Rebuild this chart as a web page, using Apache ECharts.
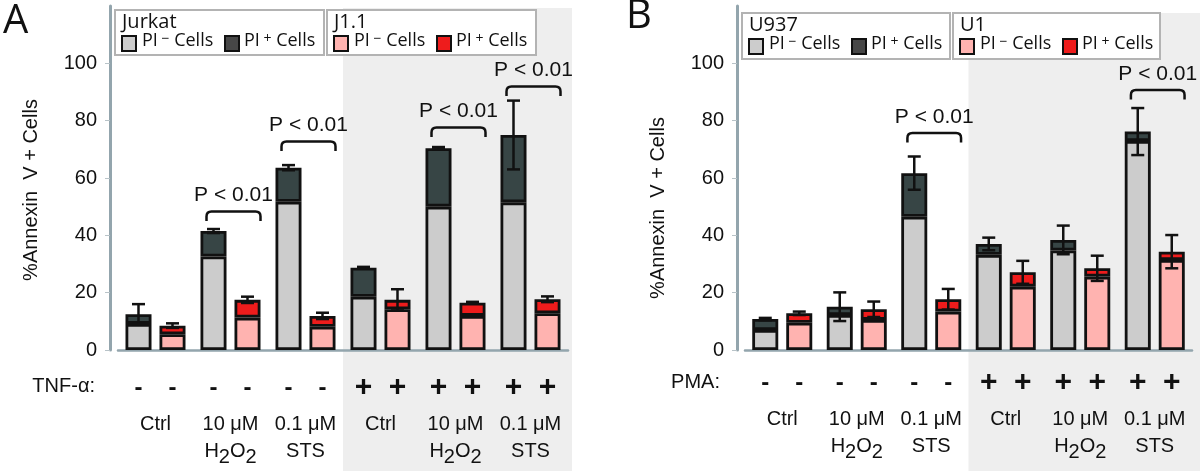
<!DOCTYPE html>
<html><head><meta charset="utf-8">
<script src="https://cdn.jsdelivr.net/npm/echarts@6/dist/echarts.min.js"></script>
<style>html,body{margin:0;padding:0;background:#fff}#c{width:1200px;height:471px}</style>
</head><body><div id="c"></div>
<script>
// ---------- data ----------
const categories = ['Ctrl', '10 μM H2O2', '0.1 μM STS', 'Ctrl', '10 μM H2O2', '0.1 μM STS'];
const tnfSigns = ['-', '-', '-', '+', '+', '+'];
const pmaSigns = ['-', '-', '-', '+', '+', '+'];
const yTicks = [0, 20, 40, 60, 80, 100];

// Panel A : Jurkat (grey) and J1.1 (pink)
const jurkatNeg = [9.1, 32.6, 51.7, 18.6, 50.0, 51.5];
const jurkatPos = [3.4, 8.9, 11.9, 10.1, 20.4, 23.5];
const jurkatErr = [3.5, 0.7, 0.9, 0.3, 0.4, 12.0];
const j11Neg = [5.5, 11.3, 8.1, 14.2, 11.9, 12.8];
const j11Pos = [3.0, 6.2, 3.8, 3.3, 4.6, 4.9];
const j11Err = [0.8, 1.1, 1.1, 3.7, 0.3, 1.0];

// Panel B : U937 (grey) and U1 (pink)
const u937Neg = [7.0, 12.2, 46.5, 33.2, 34.7, 72.9];
const u937Pos = [3.8, 2.9, 15.2, 3.8, 3.7, 3.3];
const u937Err = [0.4, 5.0, 5.8, 2.2, 5.0, 8.2];
const u1Neg = [9.5, 10.5, 13.4, 22.1, 25.6, 31.4];
const u1Pos = [3.3, 3.7, 4.3, 5.0, 2.9, 2.9];
const u1Err = [0.6, 2.7, 3.6, 4.0, 4.4, 5.8];

// significance brackets (category index, bracket level)
const sigPairsA = [1, 2, 4, 5];
const sigLevelsA = [48.3, 72.7, 77.6, 91.9];
const sigPairsB = [2, 5];
const sigLevelsB = [75.7, 90.7];
const sigText = 'P < 0.01';

// ---------- style ----------
const FONT = '"Liberation Sans", Arial, sans-serif';
const LFONT = '"Open Sans", "Noto Sans", sans-serif';
const C_GREY = '#cccccc', C_DARK = '#374545', C_PINK = '#ffb3b0', C_RED = '#ee1c1c';
const AXIS_C = '#93a5ad';
const BAR_W = 26, BAR_GAP = 8;
const OFFSET = (BAR_W + BAR_GAP) / 2;

const chart = echarts.init(document.getElementById('c'), null, {renderer: 'canvas'});

function catLabel(v, i) {
  const s = categories[i];
  const parts = s.split('μM ');
  if (parts.length === 1) return '{t|' + s + '}';
  let second = parts[1];
  if (second === 'H2O2') second = '{t|H}{s|2}{t|O}{s|2}';
  else second = '{t|' + second + '}';
  return '{t|' + parts[0] + 'μM}\n' + second;
}

function xAxisOpt(gi, margin) {
  return {
    type: 'category', gridIndex: gi, data: categories,
    axisLine: {show: true, lineStyle: {color: AXIS_C, width: 2.5}},
    axisTick: {show: false},
    axisLabel: {
      interval: 0, margin: margin, color: '#111', formatter: catLabel,
      rich: {
        t: {fontFamily: FONT, fontSize: 20, lineHeight: 27, verticalAlign: 'top', color: '#111'},
        s: {fontFamily: FONT, fontSize: 20, lineHeight: 27, verticalAlign: 'top', padding: [6, 0, 0, 0], color: '#111'}
      }
    }
  };
}

function yAxisOpt(gi) {
  return {
    type: 'value', gridIndex: gi, min: 0, max: 120, interval: 20, offset: 8,
    axisLine: {show: true, lineStyle: {color: AXIS_C, width: 3}},
    axisTick: {show: true, length: 5, lineStyle: {color: '#b8c3c8', width: 1}, customValues: yTicks},
    axisLabel: {
      fontFamily: FONT, fontSize: 20, color: '#111', margin: 13, customValues: yTicks,
      formatter: v => (v > 100 ? '' : String(v))
    },
    splitLine: {show: false}
  };
}

function barSeries(ai, data, stack, color, signs, dist) {
  const s = {
    type: 'bar', xAxisIndex: ai, yAxisIndex: ai, stack: stack, data: data,
    barWidth: BAR_W, barGap: (BAR_GAP / BAR_W * 100) + '%', z: 2,
    itemStyle: {color: color, borderColor: '#111', borderWidth: 2.8},
    emphasis: {disabled: true}, animation: false
  };
  if (signs) {
    s.label = {
      show: true, position: 'bottom', distance: dist, color: '#111',
      formatter: p => (signs[p.dataIndex] === '+' ? '{p|+}' : '{m|-}'),
      rich: {
        p: {fontFamily: FONT, fontSize: 30, fontWeight: 'bold', lineHeight: 24, color: '#111'},
        m: {fontFamily: FONT, fontSize: 24, fontWeight: 'bold', lineHeight: 24, color: '#111'}
      }
    };
  }
  return s;
}

function errSeries(ai, neg, pos, err, side) {
  return {
    type: 'custom', xAxisIndex: ai, yAxisIndex: ai, z: 6, animation: false,
    data: neg.map((v, i) => [i, v + pos[i], err[i]]),
    renderItem: (params, api) => {
      const i = api.value(0), tot = api.value(1), e = api.value(2);
      const x = api.coord([i, tot])[0] + side * OFFSET;
      const yt = api.coord([i, tot + e])[1], yb = api.coord([i, tot - e])[1];
      const cap = 6.5;
      const st = {stroke: '#111', lineWidth: 2.5};
      return {type: 'group', children: [
        {type: 'line', shape: {x1: x, y1: yt, x2: x, y2: yb}, style: st},
        {type: 'line', shape: {x1: x - cap, y1: yt, x2: x + cap, y2: yt}, style: st},
        {type: 'line', shape: {x1: x - cap, y1: yb, x2: x + cap, y2: yb}, style: st}
      ]};
    }
  };
}

function sigSeries(ai, pairs, levels) {
  return {
    type: 'custom', xAxisIndex: ai, yAxisIndex: ai, z: 6, animation: false,
    data: pairs.map((p, k) => [p, levels[k]]),
    renderItem: (params, api) => {
      const c = api.coord([api.value(0), api.value(1)]);
      const band = api.size([1, 0])[0];
      const x1 = c[0] - 0.32 * band, x2 = c[0] + 0.40 * band, y = c[1];
      const yl = api.coord([api.value(0), api.value(1) - 3.3])[1];
      const r = 5;
      const path = 'M' + x1 + ',' + yl + ' L' + x1 + ',' + (y + r) + ' Q' + x1 + ',' + y + ' ' + (x1 + r) + ',' + y +
        ' L' + (x2 - r) + ',' + y + ' Q' + x2 + ',' + y + ' ' + x2 + ',' + (y + r) + ' L' + x2 + ',' + yl;
      return {type: 'group', children: [
        {type: 'path', shape: {pathData: path}, style: {fill: 'none', stroke: '#111', lineWidth: 2.5}},
        {type: 'text', style: {text: sigText, x: (x1 + x2) / 2, y: y - 16, align: 'center', verticalAlign: 'middle',
          fill: '#111', font: '21px ' + FONT}}
      ]};
    }
  };
}

const option = {
  animation: false,
  textStyle: {fontFamily: FONT},
  grid: [
    {left: 118, top: 6, width: 450, height: 344},
    {left: 745, top: 6, width: 447, height: 344}
  ],
  xAxis: [xAxisOpt(0, 64), xAxisOpt(1, 59)],
  yAxis: [yAxisOpt(0), yAxisOpt(1)],
  series: [
    barSeries(0, jurkatNeg, 'Ag', C_GREY, tnfSigns, 26),
    barSeries(0, jurkatPos, 'Ag', C_DARK),
    barSeries(0, j11Neg, 'Ap', C_PINK, tnfSigns, 26),
    barSeries(0, j11Pos, 'Ap', C_RED),
    errSeries(0, jurkatNeg, jurkatPos, jurkatErr, -1),
    errSeries(0, j11Neg, j11Pos, j11Err, 1),
    sigSeries(0, sigPairsA, sigLevelsA),
    barSeries(1, u937Neg, 'Bg', C_GREY, pmaSigns, 21),
    barSeries(1, u937Pos, 'Bg', C_DARK),
    barSeries(1, u1Neg, 'Bp', C_PINK, pmaSigns, 21),
    barSeries(1, u1Pos, 'Bp', C_RED),
    errSeries(1, u937Neg, u937Pos, u937Err, -1),
    errSeries(1, u1Neg, u1Pos, u1Err, 1),
    sigSeries(1, sigPairsB, sigLevelsB)
  ]
};
chart.setOption(option);

// ---------- decorations (shading, legends, texts) ----------
function shade(ai, top, right) {
  const c2 = chart.convertToPixel({xAxisIndex: ai}, 2);
  const c3 = chart.convertToPixel({xAxisIndex: ai}, 3);
  const x0 = (c2 + c3) / 2;
  return {type: 'rect', z: -10, silent: true, shape: {x: x0, y: top, width: right - x0, height: 471 - top},
    style: {fill: '#eeeeee'}};
}

function legendBox(bx, by, w, h, title, cNeg, cPos) {
  const rich = {
    n: {fontFamily: LFONT, fontSize: 18, lineHeight: 22, verticalAlign: 'top', fill: '#111', color: '#111'},
    u: {fontFamily: LFONT, fontSize: 14, lineHeight: 14, verticalAlign: 'top', fill: '#111', color: '#111'}
  };
  return [
    {type: 'rect', z: 50, shape: {x: bx, y: by, width: w, height: h}, style: {fill: '#fff', stroke: '#b3b3b3', lineWidth: 2}},
    {type: 'text', z: 51, style: {text: title, x: bx + 7, y: by + 12, verticalAlign: 'middle', font: '20px ' + LFONT, fill: '#111'}},
    {type: 'rect', z: 51, shape: {x: bx + 7, y: by + 26, width: 14, height: 15}, style: {fill: cNeg, stroke: '#111', lineWidth: 2}},
    {type: 'text', z: 51, style: {text: '{n|PI}{u| −}{n| Cells}', rich: rich, x: bx + 27, y: by + 22}},
    {type: 'rect', z: 51, shape: {x: bx + 110, y: by + 26, width: 14, height: 15}, style: {fill: cPos, stroke: '#111', lineWidth: 2}},
    {type: 'text', z: 51, style: {text: '{n|PI}{u| +}{n| Cells}', rich: rich, x: bx + 129, y: by + 22}}
  ];
}

function txt(t, x, y, size, opts) {
  return {type: 'text', z: 20, style: Object.assign({text: t, x: x, y: y, font: size + 'px ' + FONT, fill: '#111',
    verticalAlign: 'middle'}, opts || {})};
}

const gridA = chart.getModel().getComponent('grid', 0).coordinateSystem.getRect();

const graphics = [
  shade(0, 8, gridA.x + gridA.width + 4),
  shade(1, 13, 1200),
  ...legendBox(115, 10, 209, 45, 'Jurkat', C_GREY, '#474747'),
  ...legendBox(327, 10, 209, 45, 'J1.1', C_PINK, C_RED),
  ...legendBox(742, 13, 208, 46, 'U937', C_GREY, '#474747'),
  ...legendBox(953, 13, 207, 46, 'U1', C_PINK, C_RED),
  {type: 'text', z: 20, style: {text: 'A', x: 3, y: 2, font: '40px ' + LFONT, fill: '#111'}},
  {type: 'text', z: 20, style: {text: 'B', x: 626, y: -3, font: '40px ' + LFONT, fill: '#111'}},
  {type: 'text', z: 20, x: 31, y: 190, rotation: Math.PI / 2,
    style: {text: '%Annexin  V + Cells', x: 0, y: 0, align: 'center', verticalAlign: 'middle', font: '20px ' + FONT, fill: '#111'}},
  {type: 'text', z: 20, x: 658, y: 208, rotation: Math.PI / 2,
    style: {text: '%Annexin  V + Cells', x: 0, y: 0, align: 'center', verticalAlign: 'middle', font: '20px ' + FONT, fill: '#111'}},
  txt('TNF-α:', 95, 386, 20, {align: 'right'}),
  txt('PMA:', 720, 382, 20, {align: 'right'})
];
chart.setOption({graphic: graphics});
</script>
</body></html>
